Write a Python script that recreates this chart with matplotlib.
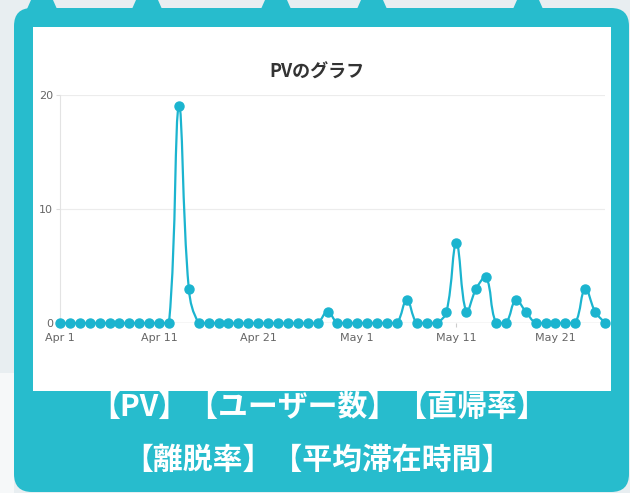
import matplotlib
matplotlib.use("Agg")
import matplotlib.pyplot as plt
import numpy as np
import pandas as pd
from matplotlib.path import Path
from matplotlib.patches import PathPatch, FancyBboxPatch, Rectangle, Polygon

plt.rcParams['font.family'] = ['Noto Sans CJK JP', 'DejaVu Sans']

# ---- data ----
dates = pd.date_range("2017-04-01", "2017-05-26", freq="D")
pv = [0, 0, 0, 0, 0, 0, 0, 0, 0, 0, 0, 0,          # Apr 1-12
      19, 3,                                       # Apr 13-14
      0, 0, 0, 0, 0, 0, 0, 0, 0, 0, 0, 0, 0,       # Apr 15-27
      1,                                           # Apr 28
      0, 0, 0, 0, 0, 0, 0,                         # Apr 29 - May 5
      2,                                           # May 6
      0, 0, 0,                                     # May 7-9
      1, 7, 1, 3, 4,                               # May 10-14
      0, 0,                                        # May 15-16
      2, 1,                                        # May 17-18
      0, 0, 0, 0, 0,                               # May 19-23
      3, 1, 0]                                     # May 24-26
tick_dates = ["2017-04-01", "2017-04-11", "2017-04-21", "2017-05-01", "2017-05-11", "2017-05-21"]
tick_labels = ["Apr 1", "Apr 11", "Apr 21", "May 1", "May 11", "May 21"]
y_ticks = [0, 10, 20]
title = "PVのグラフ"
caption_lines = ["【PV】【ユーザー数】【直帰率】", "【離脱率】【平均滞在時間】"]

W, H = 630, 493
TEAL = "#27bccd"
LINE = "#1bb4cf"

fig = plt.figure(figsize=(W / 100, H / 100), dpi=100)
fig.patch.set_facecolor("#e8eef1")

# decoration layer in pixel coords
deco = fig.add_axes([0, 0, 1, 1])
deco.set_xlim(0, W)
deco.set_ylim(H, 0)
deco.axis("off")
deco.add_patch(Rectangle((0, 373), 14, 120, facecolor="#f6f8f9", edgecolor="none"))
deco.add_patch(FancyBboxPatch((14 + 18, 8 + 18), 615 - 36, 484 - 36,
                              boxstyle="round,pad=18", facecolor=TEAL, edgecolor="none"))
for cx in [42, 147, 276, 372, 528]:
    deco.add_patch(Polygon([(cx - 15, 9), (cx - 11, 0), (cx + 11, 0), (cx + 15, 9)],
                           closed=True, facecolor=TEAL, edgecolor="none"))
deco.add_patch(Rectangle((33, 27), 578, 364, facecolor="white", edgecolor="none"))
deco.text(317, 72, title, ha="center", va="center", fontsize=13, fontweight="bold", color="#333333")
deco.text(319, 407, caption_lines[0], ha="center", va="center", fontsize=21.5,
          fontweight="bold", color="white")
deco.text(317, 460, caption_lines[1], ha="center", va="center", fontsize=21.5,
          fontweight="bold", color="white")

# chart axes
left, right, top, bottom = 60, 605, 95, 323
ax = fig.add_axes([left / W, (H - bottom) / H, (right - left) / W, (bottom - top) / H])
ax.patch.set_alpha(0)
x = np.array([(d - dates[0]).days for d in dates], dtype=float)
y = np.array(pv, dtype=float)
ax.set_xlim(x[0], x[-1])
ax.set_ylim(0, 20)

# Chart.js-style spline (tension 0.4, control points capped to chart area)
px_x = (right - left) / (x[-1] - x[0])
px_y = (bottom - top) / 20.0
t = 0.4
verts = [(x[0], y[0])]
codes = [Path.MOVETO]
cps = []
n = len(x)
for i in range(n):
    p0 = np.array([x[max(i - 1, 0)] * px_x, y[max(i - 1, 0)] * px_y])
    p1 = np.array([x[i] * px_x, y[i] * px_y])
    p2 = np.array([x[min(i + 1, n - 1)] * px_x, y[min(i + 1, n - 1)] * px_y])
    d01 = np.hypot(*(p1 - p0))
    d12 = np.hypot(*(p2 - p1))
    s = d01 + d12
    s01 = d01 / s if s else 0
    s12 = d12 / s if s else 0
    prev_cp = p1 - t * s01 * (p2 - p0)
    next_cp = p1 + t * s12 * (p2 - p0)
    prev_cp = np.array([prev_cp[0] / px_x, np.clip(prev_cp[1] / px_y, 0, 20)])
    next_cp = np.array([next_cp[0] / px_x, np.clip(next_cp[1] / px_y, 0, 20)])
    cps.append((prev_cp, next_cp))
for i in range(1, n):
    verts += [tuple(cps[i - 1][1]), tuple(cps[i][0]), (x[i], y[i])]
    codes += [Path.CURVE4] * 3
ax.add_patch(PathPatch(Path(verts, codes), facecolor="none", edgecolor=LINE,
                       lw=1.6, zorder=3, clip_on=False))
ax.plot(x, y, linestyle="none", marker="o", markersize=6.5, color=LINE,
        markeredgecolor=LINE, zorder=4, clip_on=False)

# axes styling
ax.set_yticks(y_ticks)
ax.set_yticklabels([str(v) for v in y_ticks])
tx = [(pd.Timestamp(d) - dates[0]).days for d in tick_dates]
ax.set_xticks(tx)
ax.set_xticklabels(tick_labels)
for s in ["top", "right", "bottom"]:
    ax.spines[s].set_visible(False)
ax.spines["left"].set_color("#e3e3e3")
ax.spines["left"].set_linewidth(0.8)
ax.grid(axis="y", color="#ececec", linewidth=0.8)
ax.axhline(0, color="#c8c8c8", linewidth=0.9, zorder=2)
ax.tick_params(axis="y", length=3, color="#dddddd", labelsize=8, labelcolor="#666666", pad=2)
ax.tick_params(axis="x", length=3, color="#cccccc", labelsize=8, labelcolor="#666666", pad=4)
for lab in ax.get_xticklabels() + ax.get_yticklabels():
    lab.set_family(["DejaVu Sans"])

fig.savefig("out.png", dpi=100, facecolor=fig.get_facecolor())
